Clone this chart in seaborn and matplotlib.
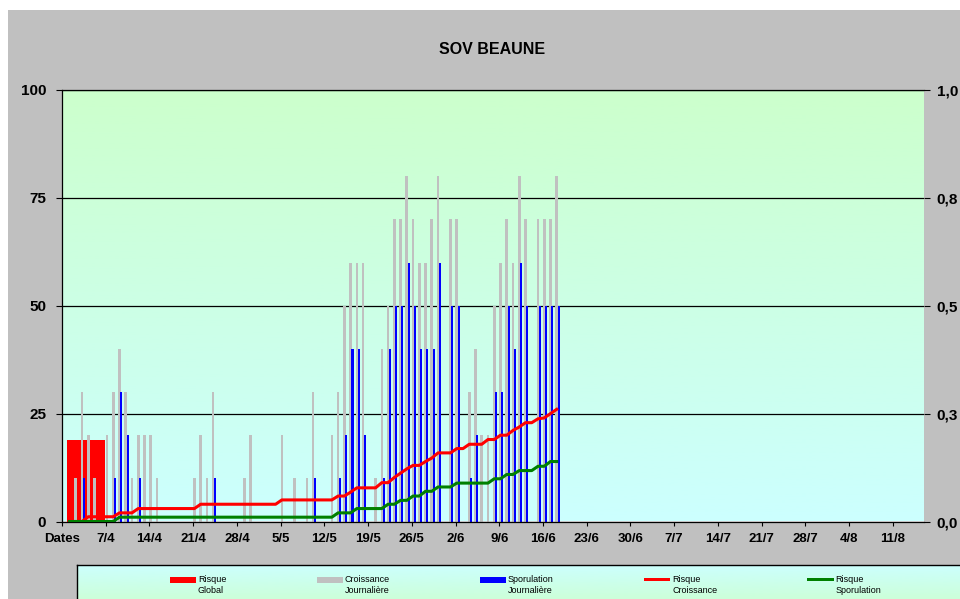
import numpy as np
import pandas as pd
import matplotlib
matplotlib.use("Agg")
import matplotlib.pyplot as plt
from matplotlib.patches import Rectangle, Patch
from matplotlib.legend_handler import HandlerPatch
from matplotlib.colors import LinearSegmentedColormap
import seaborn as sns

plt.rcParams['font.family'] = ['Liberation Sans', 'DejaVu Sans']

############################################################################
# data : days counted from 31/3 (first category "Dates")
############################################################################
tick_days = [0, 7, 14, 21, 28, 35, 42, 49, 56, 63, 70, 77, 84, 91, 98, 105, 112, 119, 126, 133]
tick_labels = ["Dates", "7/4", "14/4", "21/4", "28/4", "5/5", "12/5", "19/5", "26/5", "2/6",
               "9/6", "16/6", "23/6", "30/6", "7/7", "14/7", "21/7", "28/7", "4/8", "11/8"]

risque_global = [19]

croissance_days = [2, 3, 4, 5, 7, 8, 9, 10, 11, 12, 13, 14, 15, 21, 22, 23, 24, 29, 30, 35,
                   37, 39, 40, 43, 44, 45, 46, 47, 48, 50, 51, 52, 53, 54, 55, 56, 57, 58, 59, 60,
                   62, 63, 65, 66, 67, 68, 69, 70, 71, 72, 73, 74, 76, 77, 78, 79]
croissance = [10, 30, 20, 10, 20, 30, 40, 30, 10, 20, 20, 20, 10, 10, 20, 10, 30, 10, 20, 20,
              10, 10, 30, 20, 30, 50, 60, 60, 60, 10, 40, 50, 70, 70, 80, 70, 60, 60, 70, 80,
              70, 70, 30, 40, 20, 20, 50, 60, 70, 60, 80, 70, 70, 70, 70, 80]

sporulation_days = [3, 8, 9, 10, 12, 24, 40, 44, 45, 46, 47, 48, 51, 52, 53, 54, 55, 56, 57, 58,
                    59, 60, 62, 63, 65, 66, 69, 70, 71, 72, 73, 74, 76, 77, 78, 79]
sporulation = [10, 10, 30, 20, 10, 10, 10, 10, 20, 40, 40, 20, 10, 40, 50, 50, 60, 50, 40, 40,
               40, 60, 50, 50, 10, 20, 30, 30, 50, 40, 60, 50, 50, 50, 50, 50]

line_days = list(range(1, 80))
risque_croissance = [0, 0, 0, .011, .011, .011, .011, .011, .02, .02,
                     .02, .03, .03, .03, .03, .03, .03, .03, .03, .03,
                     .03, .04, .04, .04, .04, .04, .04, .04, .04, .04,
                     .04, .04, .04, .04, .05, .05, .05, .05, .05, .05,
                     .05, .05, .05, .059, .059, .068, .078, .078, .078, .078,
                     .09, .09, .102, .112, .122, .13, .13, .139, .147, .159,
                     .159, .159, .169, .169, .179, .179, .179, .19, .19, .20,
                     .20, .211, .219, .229, .229, .238, .24, .25, .26]
risque_sporulation = [0, 0, 0, 0, 0, 0, 0, 0, .01, .01,
                      .01, .01, .01, .01, .01, .01, .01, .01, .01, .01,
                      .01, .01, .01, .01, .01, .01, .01, .01, .01, .01,
                      .01, .01, .01, .01, .01, .01, .01, .01, .01, .01,
                      .01, .01, .01, .02, .02, .02, .03, .03, .03, .03,
                      .03, .04, .04, .049, .049, .059, .059, .07, .07, .08,
                      .08, .08, .089, .089, .089, .089, .089, .089, .099, .099,
                      .109, .109, .118, .118, .118, .128, .128, .139, .139]

legend_labels = ["Risque\nGlobal", "Croissance\nJournalière", "Sporulation\nJournalière",
                 "Risque\nCroissance", "Risque\nSporulation"]

############################################################################
# figure
############################################################################
W, H = 960, 599
figure = plt.figure(figsize=(9.6, 5.99), dpi=100, facecolor="white")
figure.patches.append(Rectangle((8 / W, 0), 1, (H - 10) / H, transform=figure.transFigure,
                                facecolor="#C0C0C0", edgecolor="none", zorder=-10))

ax = figure.add_axes([62 / W, (H - 521.5) / H, (924 - 62) / W, (521.5 - 90) / H])

grad = np.linspace(0, 1, 256).reshape(-1, 1)
plot_cmap = LinearSegmentedColormap.from_list("plotbg", ["#CCFFFF", "#CCFFCC"])
ax.imshow(grad, extent=[0, 138, 0, 100], origin="lower", aspect="auto", cmap=plot_cmap, zorder=0)

# bars
sns.barplot(x=[3.8], y=risque_global, native_scale=True, orient="x", width=6.13,
            color="#FF0000", saturation=1, errorbar=None, linewidth=0, edgecolor="none", ax=ax)
df_c = pd.DataFrame({"jour": np.array(croissance_days) + 0.2, "val": croissance})
sns.barplot(data=df_c, x="jour", y="val", native_scale=True, orient="x", width=0.42,
            color="#C0C0C0", saturation=1, errorbar=None, linewidth=0, edgecolor="none", ax=ax)
df_s = pd.DataFrame({"jour": np.array(sporulation_days) + 0.5, "val": sporulation})
sns.barplot(data=df_s, x="jour", y="val", native_scale=True, orient="x", width=0.34,
            color="#0000FF", saturation=1, errorbar=None, linewidth=0, edgecolor="none", ax=ax)

ax.set_xlim(0, 138)
ax.set_ylim(0, 100)
ax.set_xlabel("")
ax.set_ylabel("")
ax.set_yticks([0, 25, 50, 75, 100])
ax.set_yticklabels(["0", "25", "50", "75", "100"], fontweight="bold")
ax.set_xticks(tick_days)
ax.set_xticklabels(tick_labels, fontweight="bold")
ax.tick_params(axis="y", direction="out", length=4, width=0.8, pad=7.5, labelsize=11)
ax.tick_params(axis="x", direction="out", length=3, width=0.8, pad=5, labelsize=9.5)
ax.yaxis.grid(True, color="black", linewidth=0.9)
ax.set_axisbelow(True)
ax.spines["right"].set_visible(False)
for s in ["top", "left", "bottom"]:
    ax.spines[s].set_color("black")
    ax.spines[s].set_linewidth(0.9)

# lines on secondary axis
ax2 = ax.twinx()
df_l = pd.DataFrame({"jour": np.array(line_days) + 0.2,
                     "croissance": risque_croissance,
                     "sporulation": risque_sporulation})
sns.lineplot(data=df_l, x="jour", y="croissance", color="#FF0000", linewidth=2.2, ax=ax2)
sns.lineplot(data=df_l, x="jour", y="sporulation", color="#008000", linewidth=2.2, ax=ax2)
ax2.set_ylim(0, 1)
ax2.set_xlim(0, 138)
ax2.set_ylabel("")
ax2.set_yticks([0, 0.25, 0.5, 0.75, 1.0])
ax2.set_yticklabels(["0,0", "0,3", "0,5", "0,8", "1,0"], fontweight="bold")
ax2.tick_params(axis="y", direction="out", length=4, width=0.8, pad=5, labelsize=11)
for s in ax2.spines.values():
    s.set_visible(False)

figure.text(492 / W, 1 - 50 / H, "SOV BEAUNE", ha="center", va="center",
            fontsize=11.5, fontweight="bold")

# legend box
lax = figure.add_axes([77 / W, -0.02, 1, (H - 564.5) / H + 0.02])
leg_cmap = LinearSegmentedColormap.from_list("legbg", ["#CCFFCC", "#CCFFFF"])
lax.imshow(grad, extent=[0, 1, 0, 1], origin="lower", aspect="auto", cmap=leg_cmap)
lax.set_xlim(0, 1)
lax.set_ylim(0, 1)
lax.set_xticks([])
lax.set_yticks([])
for s in ["right", "bottom"]:
    lax.spines[s].set_visible(False)
for s in ["top", "left"]:
    lax.spines[s].set_linewidth(1)


def bar_key(legend, orig_handle, xdescent, ydescent, width, height, fontsize):
    h = 0.6 * fontsize
    return Rectangle((-xdescent, -ydescent + (height - h) / 2), width, h)


def line_key(legend, orig_handle, xdescent, ydescent, width, height, fontsize):
    h = 0.33 * fontsize
    return Rectangle((-xdescent, -ydescent + (height - h) / 2), width, h)


handles = [Patch(facecolor="#FF0000"), Patch(facecolor="#C0C0C0"), Patch(facecolor="#0000FF"),
           Patch(facecolor="#FF0000", label="line"), Patch(facecolor="#008000", label="line")]
handler_map = {h: HandlerPatch(patch_func=line_key if h.get_label() == "line" else bar_key)
               for h in handles}
leg = figure.legend(handles, legend_labels, loc="upper left",
                    bbox_to_anchor=(170 / W, 1 - 575.5 / H), handler_map=handler_map,
                    ncol=5, frameon=False, fontsize=6.5, handlelength=2.9, handleheight=1.15,
                    handletextpad=0.2, columnspacing=10.0, borderpad=0, borderaxespad=0)
# key sits beside the first line of each two-line label
for col in leg._legend_handle_box.get_children():
    for row in col.get_children():
        row.align = "top"

figure.savefig("out.png", dpi=100)
